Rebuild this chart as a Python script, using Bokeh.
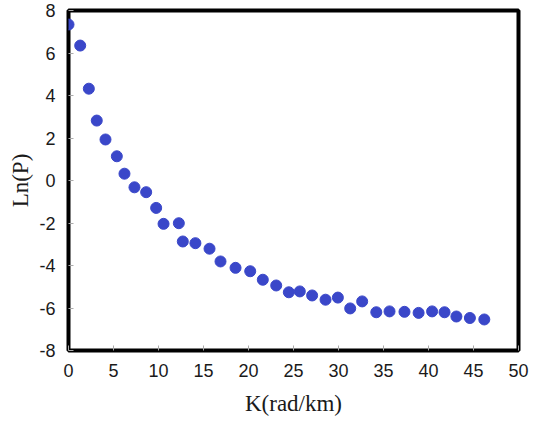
from bokeh.plotting import figure
from bokeh.models import ColumnDataSource, FixedTicker, Range1d
from bokeh.embed import file_html
from bokeh.resources import INLINE

# Data
k_values = [0.0, 1.3, 2.26, 3.14, 4.11, 5.37, 6.22, 7.33, 8.63, 9.74, 10.56, 12.26,
            12.7, 14.1, 15.67, 16.89, 18.56, 20.19, 21.59, 23.08, 24.48, 25.7, 27.07,
            28.56, 29.93, 31.3, 32.63, 34.2, 35.67, 37.33, 38.9, 40.4, 41.78, 43.1,
            44.6, 46.2]
lnp_values = [7.34, 6.35, 4.32, 2.82, 1.93, 1.14, 0.32, -0.32, -0.55, -1.29, -2.04,
              -2.01, -2.87, -2.95, -3.21, -3.81, -4.11, -4.27, -4.67, -4.94, -5.26,
              -5.22, -5.41, -5.61, -5.51, -6.02, -5.69, -6.2, -6.16, -6.18, -6.23,
              -6.16, -6.2, -6.4, -6.47, -6.54]
x_ticks = [0, 5, 10, 15, 20, 25, 30, 35, 40, 45, 50]
y_ticks = [-8, -6, -4, -2, 0, 2, 4, 6, 8]

src = ColumnDataSource(data=dict(k=k_values, lnp=lnp_values))

p = figure(width=534, height=420, output_backend="svg", toolbar_location=None,
           x_range=Range1d(0, 50), y_range=Range1d(-8, 8),
           min_border_left=68, min_border_right=16, min_border_top=10,
           min_border_bottom=70)

p.scatter("k", "lnp", source=src, size=11, color="#3a47c9", line_color="#3a47c9")

p.outline_line_color = "black"
p.outline_line_width = 4
p.outline_line_alpha = 1.0
p.xgrid.visible = False
p.ygrid.visible = False
p.background_fill_color = "white"
p.border_fill_color = "white"

for ax, ticks in ((p.xaxis, x_ticks), (p.yaxis, y_ticks)):
    ax.ticker = FixedTicker(ticks=ticks)
    ax.major_label_overrides = {t: str(t) for t in ticks}
    ax.axis_line_color = None
    ax.major_tick_in = 5
    ax.major_tick_out = 0
    ax.major_tick_line_color = "#aaaaaa"
    ax.minor_tick_line_color = None
    ax.major_label_text_font = "Liberation Sans"
    ax.major_label_text_font_size = "18px"
    ax.major_label_text_color = "#1a1a1a"
    ax.axis_label_text_font = "Liberation Serif"
    ax.axis_label_text_font_style = "normal"
    ax.axis_label_text_font_size = "23px"
    ax.axis_label_text_color = "#1a1a1a"

p.xaxis.axis_label = "K(rad/km)"
p.yaxis.axis_label = "Ln(P)"
p.xaxis.major_label_standoff = 13
p.yaxis.major_label_standoff = 13
p.xaxis.axis_label_standoff = 11
p.yaxis.axis_label_standoff = 3

open("out.html", "w").write(file_html(p, INLINE))
